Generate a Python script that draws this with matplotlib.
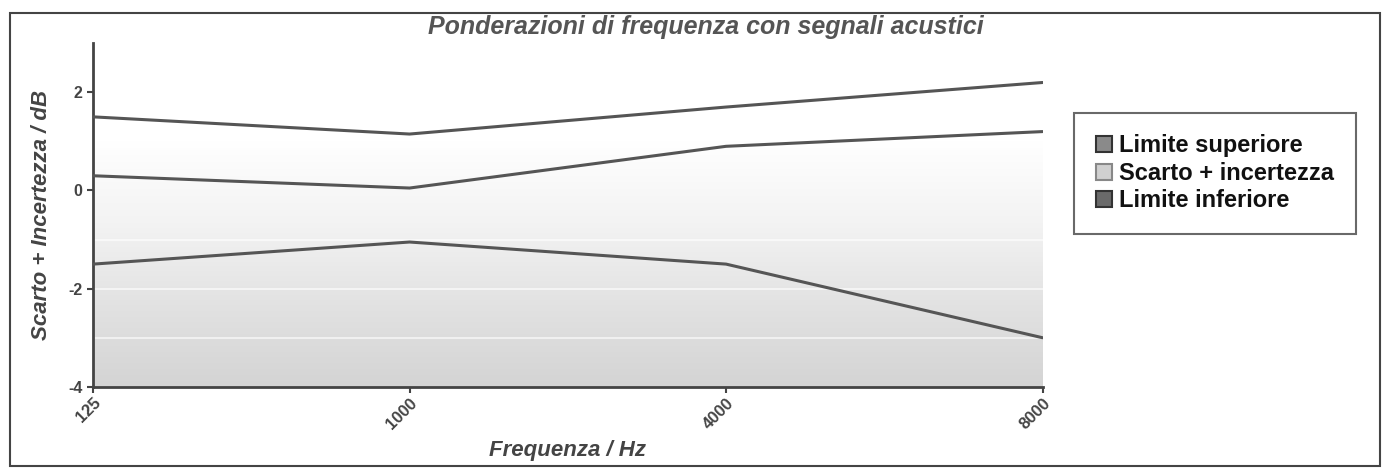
import matplotlib
matplotlib.use("Agg")
import matplotlib.pyplot as plt
import numpy as np
from matplotlib.lines import Line2D
from matplotlib.patches import Rectangle
from matplotlib.colors import LinearSegmentedColormap

plt.rcParams['font.family'] = ['Liberation Sans', 'DejaVu Sans']

# Data
frequencies = ["125", "1000", "4000", "8000"]
limite_superiore = [1.5, 1.15, 1.7, 2.2]
scarto_incertezza = [0.3, 0.05, 0.9, 1.2]
limite_inferiore = [-1.5, -1.05, -1.5, -3.0]
series_labels = ["Limite superiore", "Scarto + incertezza", "Limite inferiore"]
y_ticks = [-4, -2, 0, 2]

line_color = "#555555"

fig = plt.figure(figsize=(13.9, 4.7), dpi=100)
ax = fig.add_axes([0.067, 0.177, 0.683, 0.731])

x = np.arange(len(frequencies))
ax.set_xlim(x[0], x[-1])

# gradient background (dark at bottom, fading to white near +1)
grad = np.linspace(0, 1, 256).reshape(-1, 1)
cmap = LinearSegmentedColormap.from_list("g", ["#d4d4d4", "#e2e2e2", "#f3f3f3", "#ffffff"])
ax.imshow(grad, extent=[x[0], x[-1], -4, 1.0], aspect='auto', cmap=cmap,
          origin='lower', zorder=0, interpolation='bicubic')
ax.set_ylim(-4, 3)
for gy in [-3, -2, -1]:
    ax.axhline(gy, color="white", lw=1.2, alpha=0.7, zorder=1)

for vals in (limite_superiore, scarto_incertezza, limite_inferiore):
    ax.plot(x, vals, color=line_color, lw=2.2, zorder=3, solid_capstyle='round')

ax.set_xticks(x)
ax.set_xticklabels(frequencies, rotation=45, ha='right', va='top',
                   rotation_mode='anchor', fontsize=12, fontweight='bold',
                   color="#444444")
ax.set_yticks(y_ticks)
ax.set_yticklabels([str(v) for v in y_ticks], fontsize=11.5, fontweight='bold',
                   color="#444444")
ax.tick_params(axis='both', direction='out', length=4, width=1.5, colors="#444444")
ax.tick_params(axis='x', pad=2)
for s in ("top", "right"):
    ax.spines[s].set_visible(False)
for s in ("left", "bottom"):
    ax.spines[s].set_color("#444444")
    ax.spines[s].set_linewidth(2)

ax.set_xlabel("Frequenza / Hz", fontsize=16, fontweight='bold', style='italic',
              color="#444444", labelpad=6)
ax.set_ylabel("Scarto + Incertezza / dB", fontsize=16, fontweight='bold',
              style='italic', color="#444444", labelpad=12)

fig.text(0.508, 0.968, "Ponderazioni di frequenza con segnali acustici",
         ha='center', va='top', fontsize=18, fontweight='bold', style='italic',
         color="#555555")

# outer frame
fig.patches.append(Rectangle((0.0072, 0.0085), 0.9856, 0.9635, transform=fig.transFigure,
                             fill=False, edgecolor="#444444", lw=1.5))

handles = [
    Line2D([], [], marker='s', linestyle='none', markersize=11,
           markerfacecolor="#8a8a8a", markeredgecolor="#333333", markeredgewidth=1.5),
    Line2D([], [], marker='s', linestyle='none', markersize=11,
           markerfacecolor="#d0d0d0", markeredgecolor="#888888", markeredgewidth=1.5),
    Line2D([], [], marker='s', linestyle='none', markersize=11,
           markerfacecolor="#6a6a6a", markeredgecolor="#333333", markeredgewidth=1.5),
]
leg = fig.legend(handles, series_labels, loc='upper left',
                 bbox_to_anchor=(0.773, 0.76), fancybox=False, frameon=True,
                 prop={'size': 17, 'weight': 'bold'}, handletextpad=0.3,
                 handlelength=0.7, labelspacing=0.2, borderpad=0.9,
                 borderaxespad=0)
leg.get_frame().set_edgecolor("#444444")
leg.get_frame().set_linewidth(1.5)
for t in leg.get_texts():
    t.set_color("#111111")

fig.savefig("out.png", dpi=100)
